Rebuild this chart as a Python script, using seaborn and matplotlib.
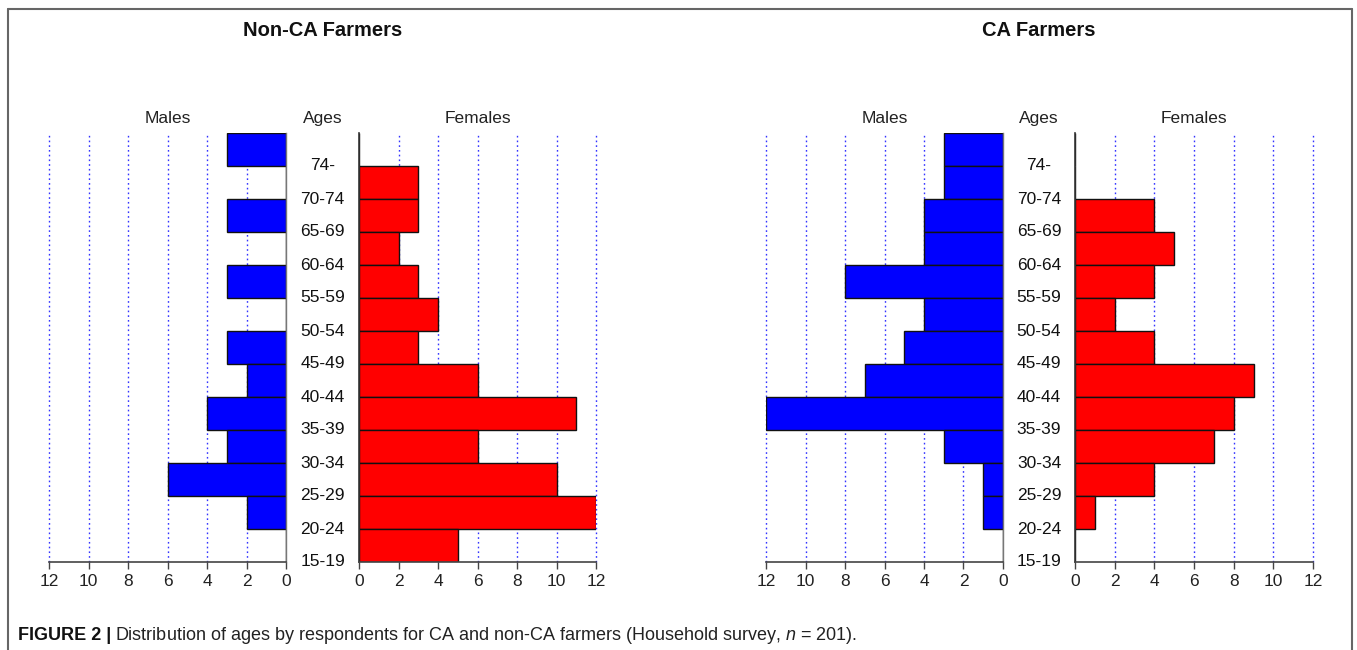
import matplotlib
matplotlib.use("Agg")
import matplotlib.pyplot as plt
import matplotlib.transforms as mtrans
from matplotlib.lines import Line2D
import seaborn as sns
import pandas as pd

sns.set_theme(style="white")
plt.rcParams["font.family"] = ["Liberation Sans", "DejaVu Sans"]
plt.rcParams["mathtext.fontset"] = "custom"
plt.rcParams["mathtext.it"] = "Liberation Sans:italic"
plt.rcParams["mathtext.rm"] = "Liberation Sans"

# ---- data (age groups ascending) ----
ages = ["15-19", "20-24", "25-29", "30-34", "35-39", "40-44", "45-49",
        "50-54", "55-59", "60-64", "65-69", "70-74", "74-"]
nonca_males = [0, 2, 6, 3, 4, 2, 3, 0, 3, 0, 3, 0, 3]
nonca_females = [5, 12, 10, 6, 11, 6, 3, 4, 3, 2, 3, 3, 0]
ca_males = [0, 1, 1, 3, 12, 7, 5, 4, 8, 4, 4, 3, 3]
ca_females = [0, 1, 4, 7, 8, 9, 4, 2, 4, 5, 4, 0, 0]
panel_titles = ["Non-CA Farmers", "CA Farmers"]
xticks = [0, 2, 4, 6, 8, 10, 12]

W, H = 1357, 650
fig = plt.figure(figsize=(W / 100, H / 100), dpi=100)
fig.patch.set_facecolor("white")

order = ages[::-1]  # top to bottom


def fx(px):
    return px / W


def fy(py):
    return 1 - py / H


def style_ax(ax, side):
    ax.set_xlim((12, 0) if side == "m" else (0, 12))
    ax.set_ylim(len(ages) - 0.5, -0.5)
    ax.set_xticks(xticks)
    ax.set_xticklabels([str(t) for t in xticks], fontsize=12.5, color="#222222")
    ax.set_yticks([])
    ax.set_xlabel("")
    ax.set_ylabel("")
    ax.set_facecolor("none")
    for t in xticks:
        if t == 0:
            continue
        ax.axvline(t, color="#3333ff", linestyle=(0, (1.2, 2.2)), linewidth=1.0,
                   zorder=0, clip_on=False)
    ax.spines["top"].set_visible(False)
    ax.spines["bottom"].set_color("#444444")
    ax.spines["bottom"].set_linewidth(1.2)
    if side == "m":
        ax.spines["left"].set_visible(False)
        ax.spines["right"].set_visible(True)
        ax.spines["right"].set_color("#777777")
        ax.spines["right"].set_linewidth(1.0)
    else:
        ax.spines["right"].set_visible(False)
        ax.spines["left"].set_visible(True)
        ax.spines["left"].set_color("#333333")
        ax.spines["left"].set_linewidth(1.2)
    ax.tick_params(axis="x", direction="out", length=5, width=1.0, color="#444444",
                   bottom=True, pad=4)
    ax.tick_params(axis="y", left=False, right=False)


panels = [
    (nonca_males, nonca_females, 49, 286, 359, 596),
    (ca_males, ca_females, 766, 1003, 1075, 1313),
]

y_top, y_bot = 133, 562
for (males, females, m_l, m_r, f_l, f_r), title in zip(panels, panel_titles):
    axm = fig.add_axes([fx(m_l), fy(y_bot), (m_r - m_l) / W, (y_bot - y_top) / H])
    axf = fig.add_axes([fx(f_l), fy(y_bot), (f_r - f_l) / W, (y_bot - y_top) / H])
    dm = pd.DataFrame({"age": ages, "count": males})
    df = pd.DataFrame({"age": ages, "count": females})
    sns.barplot(data=dm, x="count", y="age", order=order, orient="h", color="#0000ff",
                saturation=1, width=1.0, edgecolor="#111111", linewidth=1.0, ax=axm, zorder=2)
    sns.barplot(data=df, x="count", y="age", order=order, orient="h", color="#ff0000",
                saturation=1, width=1.0, edgecolor="#111111", linewidth=1.0, ax=axf, zorder=2)
    style_ax(axm, "m")
    style_ax(axf, "f")

    cx = fx((m_r + f_l) / 2)
    tr = mtrans.blended_transform_factory(fig.transFigure, axf.transData)
    for k, lab in enumerate(order):
        axf.text(cx, k + 0.5, lab, transform=tr, ha="center", va="center",
                 fontsize=12.5, color="#111111", clip_on=False)
    fig.text(fx((m_l + m_r) / 2), fy(117), "Males", ha="center", va="center_baseline",
             fontsize=12.5, color="#222222")
    fig.text(cx, fy(117), "Ages", ha="center", va="center_baseline", fontsize=12.5,
             color="#222222")
    fig.text(fx((f_l + f_r) / 2), fy(117), "Females", ha="center", va="center_baseline",
             fontsize=12.5, color="#222222")
    fig.text(cx, fy(31), title, ha="center", va="center", fontsize=14.5,
             fontweight="bold", color="#111111")

# border (open at bottom)
bc = "#666666"
fig.add_artist(Line2D([fx(8), fx(8)], [0, fy(9)], color=bc, lw=1.5, transform=fig.transFigure))
fig.add_artist(Line2D([fx(8), fx(1352)], [fy(9), fy(9)], color=bc, lw=1.5, transform=fig.transFigure))
fig.add_artist(Line2D([fx(1352), fx(1352)], [0, fy(9)], color=bc, lw=1.5, transform=fig.transFigure))

# caption
cap_font = ["Liberation Sans", "DejaVu Sans"]
t1 = fig.text(fx(18), fy(635), "FIGURE 2 |", ha="left", va="center", fontsize=13,
              fontweight="bold", family=cap_font, color="#111111")
fig.canvas.draw()
bb = t1.get_window_extent(renderer=fig.canvas.get_renderer())
fig.text(bb.x1 / W + fx(4), fy(635),
         r"Distribution of ages by respondents for CA and non-CA farmers (Household survey, $n$ = 201).",
         ha="left", va="center", fontsize=13, family=cap_font, color="#222222")

fig.savefig("out.png", dpi=100, facecolor="white")
